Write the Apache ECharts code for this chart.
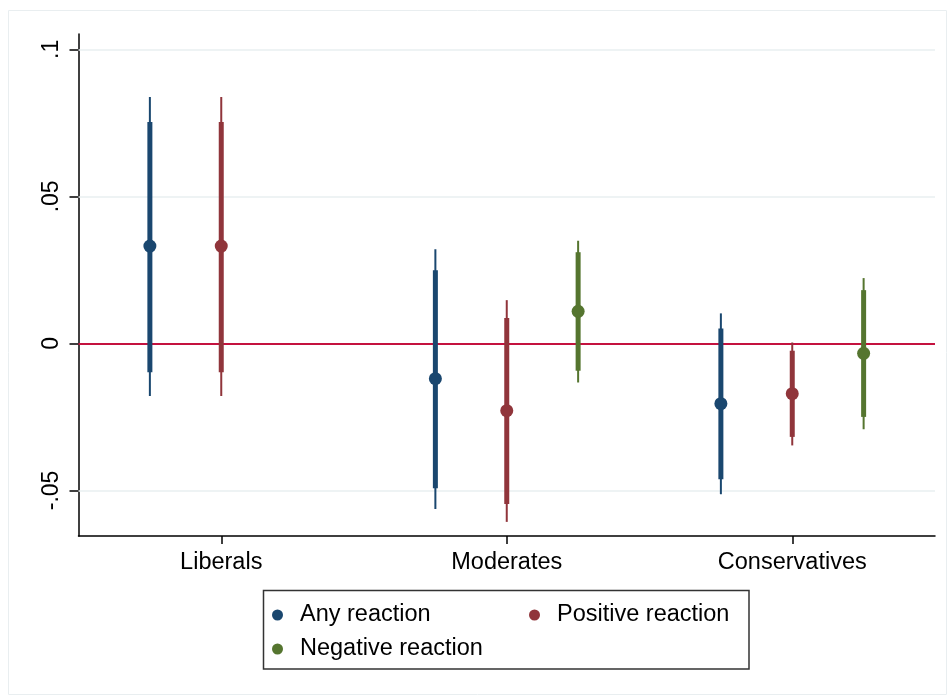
<!DOCTYPE html>
<html>
<head>
<meta charset="utf-8">
<script src="https://cdn.jsdelivr.net/npm/echarts@6/dist/echarts.min.js"></script>
<style>
html, body { margin: 0; padding: 0; background: #fff; }
#main { width: 948px; height: 696px; }
</style>
</head>
<body>
<div id="main"></div>
<script>
var groups = ['Liberals', 'Moderates', 'Conservatives'];
var seriesNames = ['Any reaction', 'Positive reaction', 'Negative reaction'];
var yTicks = [-0.05, 0, 0.05, 0.1];

// point estimates and intervals per group (null = not estimated)
var anyEst  = [0.0331, -0.0120, -0.0205];
var anyLo95 = [-0.0179, -0.0563, -0.0513];
var anyHi95 = [0.0838, 0.0320, 0.0102];
var anyLo90 = [-0.0098, -0.0493, -0.0462];
var anyHi90 = [0.0753, 0.0249, 0.0051];

var posEst  = [0.0331, -0.0229, -0.0171];
var posLo95 = [-0.0179, -0.0607, -0.0347];
var posHi95 = [0.0838, 0.0147, 0.0003];
var posLo90 = [-0.0098, -0.0546, -0.0318];
var posHi90 = [0.0753, 0.0086, -0.0025];

var negEst  = [null, 0.0109, -0.0034];
var negLo95 = [null, -0.0133, -0.0292];
var negHi95 = [null, 0.0349, 0.0222];
var negLo90 = [null, -0.0093, -0.0250];
var negHi90 = [null, 0.0310, 0.0181];

var colors = ['#1a476f', '#90353b', '#55752f'];
var font = 'Liberation Sans, Arial, Helvetica, sans-serif';

// x slot: each group takes 4 slots, series sit at 1,2,3 inside it
function buildData(k, est, lo95, hi95, lo90, hi90) {
    var out = [];
    for (var i = 0; i < groups.length; i++) {
        if (est[i] == null) continue;
        out.push([i * 4 + 1 + k, est[i], lo95[i], hi95[i], lo90[i], hi90[i]]);
    }
    return out;
}

function renderCI(params, api) {
    var x = api.value(0);
    var c = api.visual('color');
    var pe = api.coord([x, api.value(1)]);
    var a = api.coord([x, api.value(2)]);
    var b = api.coord([x, api.value(3)]);
    var d = api.coord([x, api.value(4)]);
    var e = api.coord([x, api.value(5)]);
    return {
        type: 'group',
        children: [
            { type: 'line', shape: { x1: a[0], y1: a[1], x2: b[0], y2: b[1] }, style: { stroke: c, lineWidth: 2 } },
            { type: 'line', shape: { x1: d[0], y1: d[1], x2: e[0], y2: e[1] }, style: { stroke: c, lineWidth: 5 } },
            { type: 'circle', shape: { cx: pe[0], cy: pe[1], r: 6.5 }, style: { fill: c } }
        ]
    };
}

var myChart = echarts.init(document.getElementById('main'));
var allData = [
    buildData(0, anyEst, anyLo95, anyHi95, anyLo90, anyHi90),
    buildData(1, posEst, posLo95, posHi95, posLo90, posHi90),
    buildData(2, negEst, negLo95, negHi95, negLo90, negHi90)
];

var series = [{
    // reference lines only
    type: 'line',
    data: [],
    z: 1,
    silent: true,
    markLine: {
        symbol: 'none',
        silent: true,
        z: 1,
        label: { show: false },
        animation: false,
        data: [
            { yAxis: 0.1, lineStyle: { color: '#e8eff1', width: 1.5, type: 'solid' } },
            { yAxis: 0.05, lineStyle: { color: '#e8eff1', width: 1.5, type: 'solid' } },
            { yAxis: -0.05, lineStyle: { color: '#e8eff1', width: 1.5, type: 'solid' } },
            { yAxis: 0, lineStyle: { color: '#c4123f', width: 2, type: 'solid' } }
        ]
    }
}];
for (var k = 0; k < seriesNames.length; k++) {
    series.push({
        name: seriesNames[k],
        type: 'custom',
        z: 3,
        renderItem: renderCI,
        itemStyle: { color: colors[k] },
        encode: { x: 0, y: [1, 2, 3, 4, 5] },
        data: allData[k]
    });
}

function legendAt(name, left, top) {
    return {
        data: [name],
        left: left,
        top: top,
        padding: 0,
        icon: 'circle',
        itemWidth: 35,
        itemHeight: 11,
        selectedMode: false,
        textStyle: { fontFamily: font, fontSize: 23.5, color: '#000', lineHeight: 24 }
    };
}

var option = {
    animation: false,
    color: colors,
    grid: { left: 78.5, right: 13, top: 34, bottom: 160 },
    xAxis: {
        type: 'value',
        min: 0,
        max: 12,
        splitLine: { show: false },
        axisLine: { show: true, onZero: false, lineStyle: { color: '#000', width: 1.5 } },
        axisTick: { show: true, length: 8, customValues: [2, 6, 10], lineStyle: { color: '#000', width: 1.5 } },
        axisLabel: {
            customValues: [2, 6, 10],
            margin: 15,
            fontFamily: font,
            fontSize: 23.5,
            color: '#000',
            formatter: function (v) { return groups[Math.round((v - 2) / 4)]; }
        }
    },
    yAxis: {
        type: 'value',
        min: -0.0655,
        max: 0.1052,
        splitLine: { show: false },
        axisLine: { show: true, lineStyle: { color: '#000', width: 1.5 } },
        axisTick: { show: true, length: 9, customValues: yTicks, lineStyle: { color: '#000', width: 1.5 } },
        axisLabel: {
            customValues: yTicks,
            rotate: 90,
            margin: 15,
            fontFamily: font,
            fontSize: 23,
            color: '#000',
            formatter: function (v) {
                if (Math.abs(v) < 1e-9) return '0';
                return String(Number(v.toFixed(4))).replace('0.', '.');
            }
        }
    },
    legend: [
        legendAt('Any reaction', 272, 603),
        legendAt('Positive reaction', 529, 603),
        legendAt('Negative reaction', 272, 637)
    ],
    graphic: [
        { type: 'rect', shape: { x: 8.5, y: 10.5, width: 938, height: 684 }, style: { fill: 'none', stroke: '#e9eef0', lineWidth: 1 }, silent: true },
        { type: 'rect', shape: { x: 263.5, y: 590.5, width: 485.5, height: 78.5 }, style: { fill: 'none', stroke: '#333', lineWidth: 1.5 }, silent: true }
    ],
    series: series
};
myChart.setOption(option);
</script>
</body>
</html>
